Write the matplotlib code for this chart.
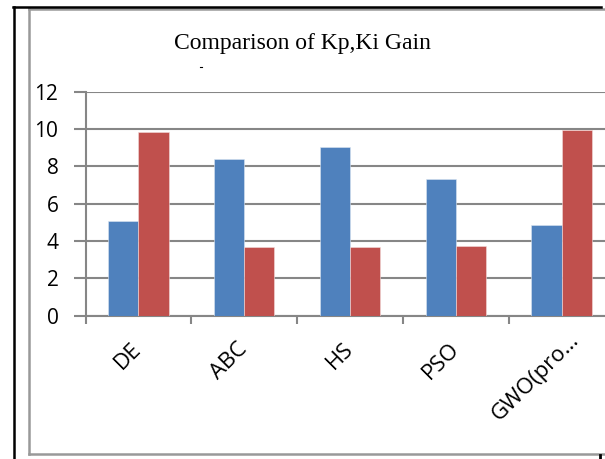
import numpy as np
import matplotlib.pyplot as plt
from matplotlib.lines import Line2D

# data
methods = ['DE', 'ABC', 'HS', 'PSO', 'GWO(pro…']
kp = [5.05, 8.36, 9.03, 7.32, 4.86]
ki = [9.84, 3.68, 3.65, 3.71, 9.96]
yticks = [0, 2, 4, 6, 8, 10, 12]

W, H = 605, 459
fig = plt.figure(figsize=(W / 100, H / 100), dpi=100)

def fx(x):
    return x / W

def fy(y):
    return 1 - y / H

# plot area in pixels (it runs past the right edge, as in the reference)
left, top, bottom, right = 85.5, 91.5, 315.5, 614.5
ax = fig.add_axes([fx(left), fy(bottom), (right - left) / W, (bottom - top) / H])

gray = '#868686'
blue = '#4F81BD'
red = '#C0504D'
font = 'Open Sans'

x = np.arange(len(methods))
bw = 0.286
ax.bar(x - bw / 2, kp, bw, color=blue, edgecolor='#dbe5f1', linewidth=0.4, zorder=3)
ax.bar(x + bw / 2, ki, bw, color=red, edgecolor='#f2dcdb', linewidth=0.4, zorder=3)

ax.set_xlim(-0.5, len(methods) - 0.5)
ax.set_ylim(0, 12)
ax.set_yticks(yticks)
ax.set_yticklabels([str(v) for v in yticks], fontsize=15, family=font)
ax.yaxis.grid(True, color=gray, linewidth=1.5, zorder=0)
ax.set_axisbelow(True)

# category ticks sit on the boundaries, labels at centres
ax.set_xticks(np.arange(len(methods) + 1) - 0.5)
ax.set_xticklabels([])
ax.set_xticks(x, minor=True)
ax.set_xticklabels(methods[:-1] + [''], minor=True, rotation=45, ha='right', va='center',
                   rotation_mode='anchor', fontsize=16, family=font)
# the truncated label sits a bit further right and higher in the original
ax.annotate(methods[-1], xy=(x[-1], 0), xycoords=('data', 'axes fraction'),
            xytext=(10, -15.5), textcoords='offset points', rotation=45,
            ha='right', va='center', rotation_mode='anchor', fontsize=16, family=font)
ax.tick_params(axis='x', which='minor', length=0, pad=22)
ax.tick_params(axis='x', which='major', length=6, width=1.5, color=gray, direction='out')
ax.tick_params(axis='y', length=9, width=1.5, color=gray, direction='out', pad=10.5)

for s in ['top', 'right']:
    ax.spines[s].set_visible(False)
for s in ['left', 'bottom']:
    ax.spines[s].set_color(gray)
    ax.spines[s].set_linewidth(1.5)

fig.text(fx(302), fy(43), 'Comparison of Kp,Ki Gain', ha='center', va='center',
         fontsize=17, family='Liberation Serif')
# stray mark under the title
fig.add_artist(Line2D([fx(200), fx(202)], [fy(67), fy(67)], color='black', lw=0.8))

# frame lines around the chart
fig.add_artist(Line2D([fx(29), fx(29)], [fy(8), fy(454)], color='#999999', lw=1.8))
fig.add_artist(Line2D([fx(29), fx(605)], [fy(8.5), fy(8.5)], color='#999999', lw=1.8))
fig.add_artist(Line2D([fx(29), fx(605)], [fy(454), fy(454)], color='#999999', lw=1.8))
fig.add_artist(Line2D([fx(14), fx(14)], [fy(6.5), fy(459)], color='black', lw=1.8))
fig.add_artist(Line2D([fx(13), fx(601)], [fy(7), fy(7)], color='black', lw=1.8))
fig.add_artist(Line2D([fx(600), fx(600)], [fy(455), fy(459)], color='black', lw=2))

fig.savefig('out.png', dpi=100)
